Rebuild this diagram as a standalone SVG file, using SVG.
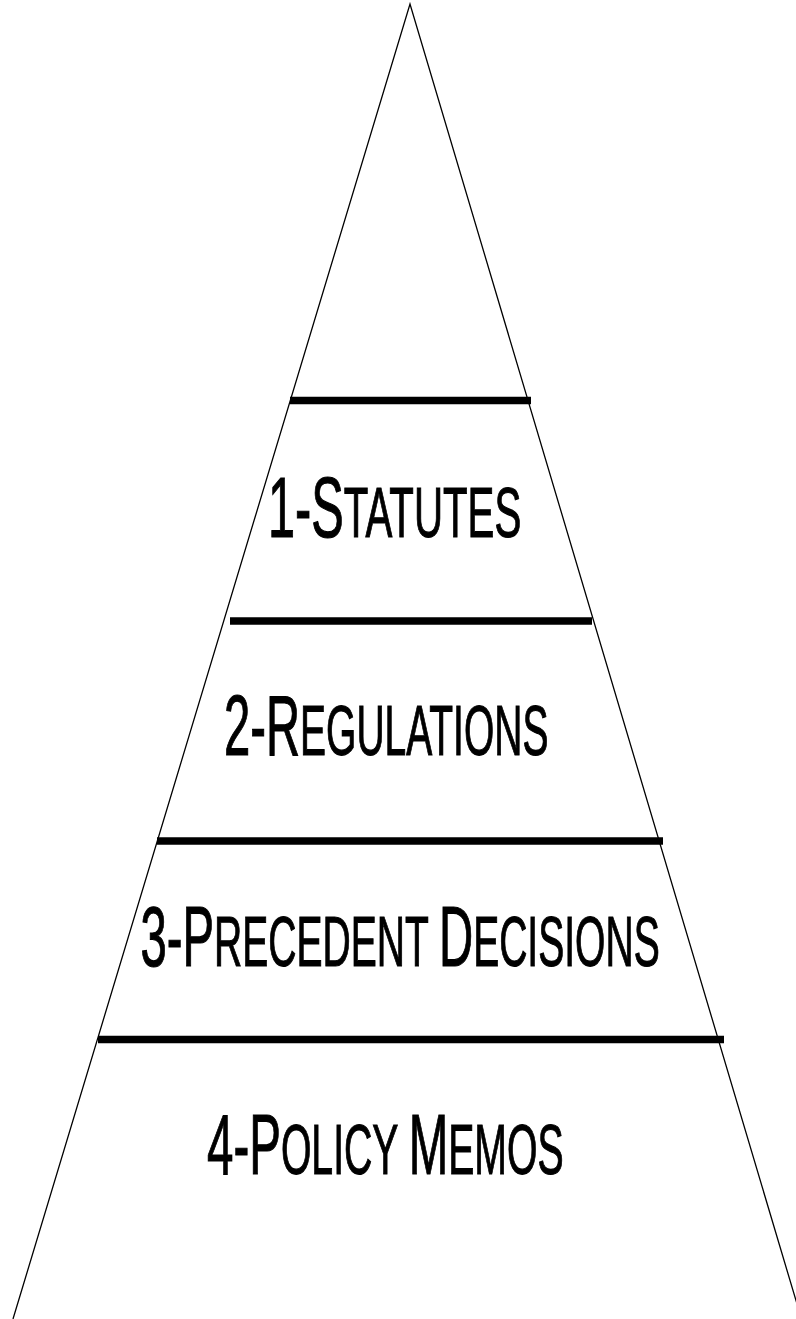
<svg xmlns="http://www.w3.org/2000/svg" width="796" height="1319" viewBox="0 0 796 1319">
<style>
.outline{fill:none;stroke:#000;stroke-width:1.3}
.bar{stroke:#000;stroke-width:7.5;fill:none}
.lbl{font-family:"Liberation Sans",Arial,sans-serif;font-size:86px;fill:#000;stroke:#000;stroke-width:1.1}
.sc{font-size:71px}
</style>
<rect width="796" height="1319" fill="#fff"/>
<g id="pyramid">
<polyline class="outline" points="13,1319 410,4 800,1314"/>
</g>
<g id="dividers">
<line class="bar" x1="290" y1="400.5" x2="531" y2="400.5"/>
<line class="bar" x1="230" y1="621" x2="592" y2="621"/>
<line class="bar" x1="157" y1="841" x2="663" y2="841"/>
<line class="bar" x1="98" y1="1039.5" x2="724" y2="1039.5"/>
</g>
<g id="tier1">
<text class="lbl" transform="translate(268,537) scale(0.567,1)">1-S<tspan class="sc">TATUTES</tspan></text>
</g>
<g id="tier2">
<text class="lbl" transform="translate(224,755) scale(0.549,1)">2-R<tspan class="sc">EGULATIONS</tspan></text>
</g>
<g id="tier3">
<text class="lbl" transform="translate(140.5,966) scale(0.55,1)">3-P<tspan class="sc">RECEDENT </tspan>D<tspan class="sc">ECISIONS</tspan></text>
</g>
<g id="tier4">
<text class="lbl" transform="translate(207,1174) scale(0.552,1)">4-P<tspan class="sc">OLICY </tspan>M<tspan class="sc">EMOS</tspan></text>
</g>
</svg>
